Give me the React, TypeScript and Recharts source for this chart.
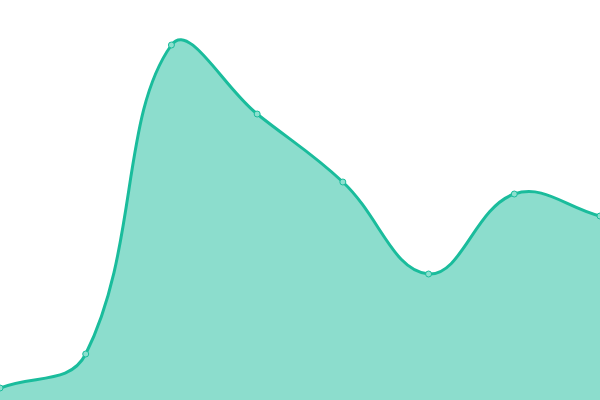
import { AreaChart, Area, XAxis, YAxis } from "recharts"

const steps = ["1", "2", "3", "4", "5", "6", "7", "8"]
const values = [12, 46, 355, 286, 218, 126, 206, 184]

const data = steps.map((step, i) => ({ step, value: values[i] }))

// tension spline: control points scaled by the distances to the neighbours
const tensionSpline = (ctx: any) => {
  const t = 0.4
  let pts: [number, number][] = []
  let line = NaN

  const ctrl = (i: number) => {
    const cur = pts[i]
    const prev = pts[i - 1] || cur
    const next = pts[i + 1] || cur
    const d01 = Math.hypot(cur[0] - prev[0], cur[1] - prev[1])
    const d12 = Math.hypot(next[0] - cur[0], next[1] - cur[1])
    let s01 = d01 / (d01 + d12)
    let s12 = d12 / (d01 + d12)
    if (isNaN(s01)) s01 = 0
    if (isNaN(s12)) s12 = 0
    const fa = t * s01
    const fb = t * s12
    const dx = next[0] - prev[0]
    const dy = next[1] - prev[1]
    return {
      before: [cur[0] - fa * dx, cur[1] - fa * dy],
      after: [cur[0] + fb * dx, cur[1] + fb * dy],
    }
  }

  return {
    areaStart() { line = 0 },
    areaEnd() { line = NaN },
    lineStart() { pts = [] },
    lineEnd() {
      const n = pts.length
      if (n) {
        if (line) ctx.lineTo(pts[0][0], pts[0][1])
        else ctx.moveTo(pts[0][0], pts[0][1])
        for (let i = 0; i < n - 1; i++) {
          const a = ctrl(i).after
          const b = ctrl(i + 1).before
          ctx.bezierCurveTo(a[0], a[1], b[0], b[1], pts[i + 1][0], pts[i + 1][1])
        }
      }
      if (line || (line !== 0 && n === 1)) ctx.closePath()
      line = 1 - line
    },
    point(x: number, y: number) {
      pts.push([+x, +y])
    },
  }
}

export default function App() {
  return (
    <div style={{ position: "absolute", left: 0, top: 0, width: 600, height: 400, background: "#ffffff" }}>
      <AreaChart width={600} height={400} data={data} margin={{ top: 0, right: 0, left: 0, bottom: 0 }}>
        <XAxis dataKey="step" hide padding={{ left: 0, right: 0 }} />
        <YAxis hide domain={[0, 400]} />
        <Area
          type={tensionSpline as any}
          dataKey="value"
          stroke="#1abc9c"
          strokeWidth={3}
          fill="#1abc9c"
          fillOpacity={0.5}
          dot={{ r: 3, fill: "#8ce0cf", stroke: "#1abc9c", strokeWidth: 1, fillOpacity: 1 }}
          activeDot={false}
          isAnimationActive={false}
        />
      </AreaChart>
    </div>
  )
}
